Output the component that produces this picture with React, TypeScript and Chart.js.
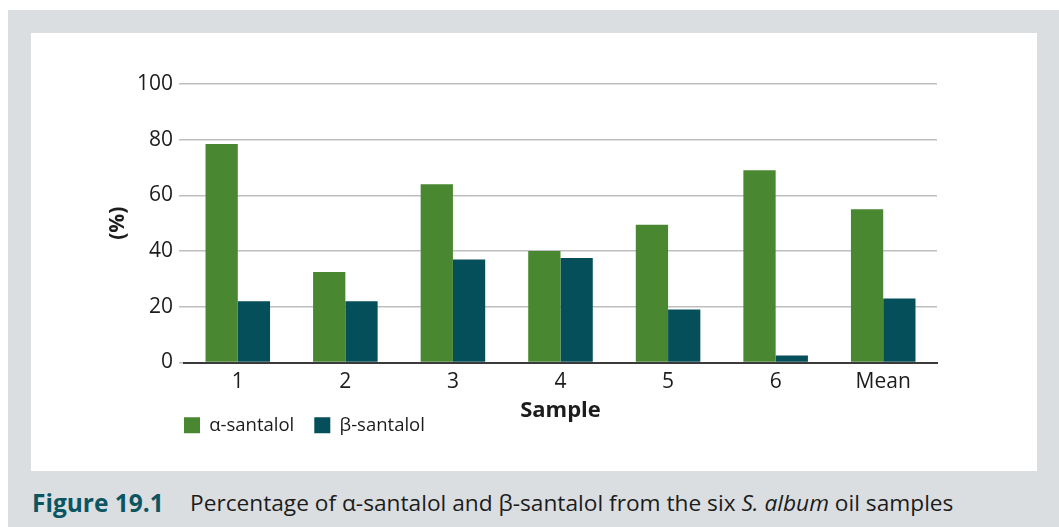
import React, { useEffect, useRef } from 'react';
import { Chart, registerables } from 'chart.js';

Chart.register(...registerables);

const categories = ['1', '2', '3', '4', '5', '6', 'Mean'];
const alphaSantalol = [78.5, 32.5, 64, 40, 49.5, 69, 55];
const betaSantalol = [22, 22, 37, 37.5, 19, 2.5, 23];
const seriesLabels = ['α-santalol', 'β-santalol'];
const seriesColors = ['#4a8731', '#044f5a'];
const yMin = 0;
const yMax = 100;
const yStep = 20;
const xTitle = 'Sample';
const yTitle = '(%)';

const FONT = "'Open Sans', 'Noto Sans', sans-serif";
const TEXT = '#1c1c1c';

const legendPlacer = {
  id: 'legendPlacer',
  afterLayout(chart: any) {
    const lg = chart.legend;
    if (!lg) return;
    const w = lg.right - lg.left;
    const h = lg.bottom - lg.top;
    lg.left = 133;
    lg.right = lg.left + w;
    lg.top = 363;
    lg.bottom = lg.top + h;
  },
};

function BarChart() {
  const ref = useRef<HTMLCanvasElement | null>(null);
  useEffect(() => {
    if (!ref.current) return;
    Chart.defaults.font.family = FONT;
    const chart = new Chart(ref.current, {
      type: 'bar',
      data: {
        labels: categories,
        datasets: [
          {
            label: seriesLabels[0],
            data: alphaSantalol,
            backgroundColor: seriesColors[0],
            barPercentage: 1,
            categoryPercentage: 0.6,
          },
          {
            label: seriesLabels[1],
            data: betaSantalol,
            backgroundColor: seriesColors[1],
            barPercentage: 1,
            categoryPercentage: 0.6,
          },
        ],
      },
      options: {
        responsive: false,
        animation: false,
        layout: { padding: { left: 0, right: 100, top: 51, bottom: 16 } },
        plugins: {
          tooltip: { enabled: false },
          legend: {
            position: 'bottom',
            align: 'start',
            labels: {
              boxWidth: 16,
              boxHeight: 16,
              padding: 20,
              color: TEXT,
              font: { size: 18.5, family: FONT },
            },
          },
        },
        scales: {
          x: {
            grid: { display: false, drawTicks: false },
            border: { display: true, color: '#3a3a3a', width: 2 },
            ticks: { color: TEXT, padding: 7, font: { size: 21, family: FONT } },
            title: {
              display: true,
              text: xTitle,
              color: TEXT,
              font: { size: 22, weight: 'bold', family: FONT },
              padding: { top: 0, bottom: -17 },
            },
            afterFit(scale: any) {
              scale.height = 44;
            },
          },
          y: {
            min: yMin,
            max: yMax,
            ticks: { stepSize: yStep, color: TEXT, padding: 6, font: { size: 21, family: FONT } },
            grid: { color: '#bfbfbf', lineWidth: 1.5, tickLength: 5, tickColor: '#bfbfbf' },
            border: { display: false },
            title: {
              display: true,
              text: yTitle,
              color: TEXT,
              font: { size: 21, weight: 'bold', family: FONT },
              padding: { top: 74, bottom: 0 },
            },
            afterFit(scale: any) {
              scale.width = 153;
            },
          },
        },
      },
      plugins: [legendPlacer],
    } as any);
    return () => chart.destroy();
  }, []);
  return <canvas ref={ref} width={1006} height={438} style={{ display: 'block' }} />;
}

export default function App() {
  return (
    <div
      style={{
        position: 'absolute',
        left: 8,
        top: 10,
        width: 1051,
        height: 517,
        background: '#dadee1',
        overflow: 'hidden',
        fontFamily: FONT,
      }}
    >
      <div
        style={{
          position: 'absolute',
          left: 23,
          top: 23,
          width: 1006,
          height: 438,
          background: '#ffffff',
        }}
      >
        <BarChart />
      </div>
      <div
        style={{
          position: 'absolute',
          left: 24,
          top: 480,
          fontSize: 24.5,
          lineHeight: '26px',
          fontWeight: 700,
          whiteSpace: 'nowrap',
          color: '#0b5561',
        }}
      >
        Figure 19.1
      </div>
      <div
        style={{
          position: 'absolute',
          left: 182,
          top: 480,
          fontSize: 22.7,
          lineHeight: '26px',
          whiteSpace: 'nowrap',
          color: TEXT,
        }}
      >
        Percentage of α-santalol and β-santalol from the six <i>S. album</i> oil samples
      </div>
    </div>
  );
}
